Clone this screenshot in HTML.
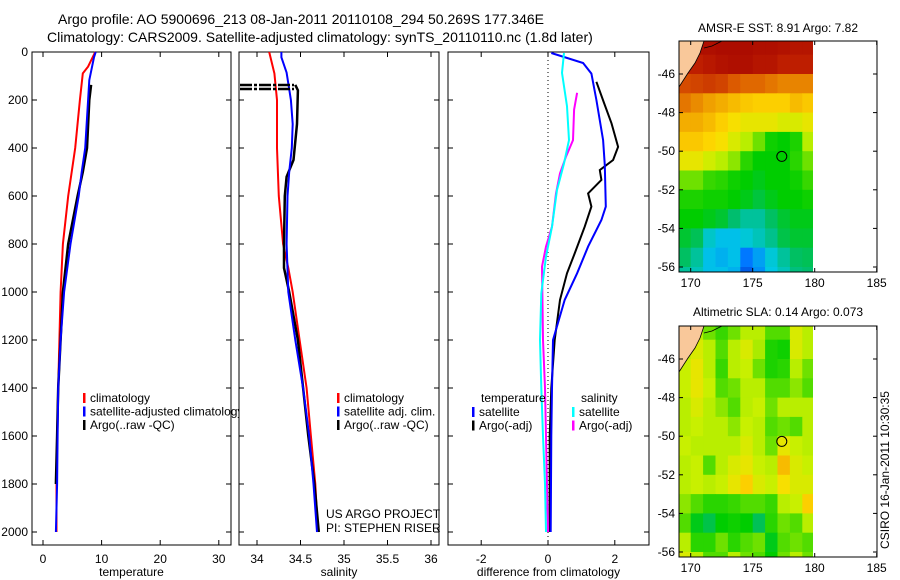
<!DOCTYPE html>
<html><head><meta charset="utf-8"><style>
body{margin:0;background:#fff}
svg{display:block;font-family:"Liberation Sans",sans-serif}
</style></head><body>
<svg id="fig" width="900" height="580" viewBox="0 0 900 580" xmlns="http://www.w3.org/2000/svg">
<text x="58" y="24" font-size="14">Argo profile: AO 5900696_213 08-Jan-2011 20110108_294 50.269S 177.346E</text>
<text x="47" y="42" font-size="14">Climatology: CARS2009. Satellite-adjusted climatology: synTS_20110110.nc (1.8d later)</text>
<g id="g"></g>
</svg>
<script>
// ---------- data ----------
const depthTicks=[0,200,400,600,800,1000,1200,1400,1600,1800,2000];
const tempTicks=[0,10,20,30];
const salTicks=[34,34.5,35,35.5,36];
const diffTicks=[-2,0,2];
const lonTicks=[170,175,180,185];
const latTicks=[-46,-48,-50,-52,-54,-56];

const tClimD=[0,61,89,200,400,600,800,1000,1200,1400,1600,1800,2000];
const tClimV=[8.9,7.7,6.8,6.3,5.5,4.3,3.4,3.0,2.8,2.6,2.4,2.3,2.3];
const tSatD=[0,22,117,200,400,500,600,800,1000,1200,1400,1600,1800,2000];
const tSatV=[9.0,8.7,7.9,7.7,7.2,6.6,6.1,4.7,3.6,3.0,2.6,2.5,2.4,2.2];
const tArgoD=[137,200,400,500,600,800,1000,1200,1400,1600,1800];
const tArgoV=[8.2,7.9,7.5,6.8,5.9,4.3,3.4,3.0,2.6,2.4,2.2];

const sClimD=[0,89,200,400,600,800,900,1000,1200,1400,1600,1800,2000];
const sClimV=[34.14,34.2,34.23,34.23,34.25,34.3,34.36,34.41,34.49,34.57,34.62,34.67,34.70];
const sSatD=[0,22,86,200,300,400,500,600,800,1000,1200,1400,1600,1800,2000];
const sSatV=[34.28,34.28,34.34,34.39,34.41,34.4,34.37,34.35,34.34,34.36,34.44,34.53,34.6,34.65,34.69];
const sArgoD=[137,160,300,450,520,600,800,900,1000,1200,1400,1600,1800,2000];
const sArgoV=[34.44,34.47,34.46,34.42,34.34,34.32,34.31,34.31,34.37,34.47,34.53,34.59,34.66,34.71];

const dTSatD=[4,46,90,200,367,472,644,700,811,922,1033,1200,1400,1600,2000];
const dTSatV=[0.1,1.05,1.3,1.45,1.65,1.7,1.73,1.6,1.2,0.87,0.5,0.15,0.12,0.1,0.08];
const dTArgoD=[124,213,297,395,450,492,533,589,644,728,839,922,1033,1200,1400,1600,2000];
const dTArgoV=[1.45,1.68,1.9,2.1,1.95,1.55,1.6,1.2,1.3,1.1,0.8,0.57,0.36,0.2,0.1,0.05,0.05];
const dSSatD=[4,87,226,367,464,575,728,853,1006,1200,1400,1600,1800,2000];
const dSSatV=[0.48,0.42,0.57,0.63,0.48,0.27,0.12,-0.06,-0.2,-0.24,-0.2,-0.15,-0.09,-0.06];
const dSArgoD=[170,240,367,436,506,589,728,811,894,1200,1400,1600,1800,2000];
const dSArgoV=[0.87,0.78,0.75,0.54,0.36,0.24,0.12,-0.06,-0.18,-0.15,-0.09,-0.06,-0.03,0];

const mapLats=[-44.5,-45.5,-46.5,-47.5,-48.5,-49.5,-50.5,-51.5,-52.5,-53.5,-54.5,-55.5,-56.5];
const mapLons=[169.5,170.5,171.5,172.5,173.5,174.5,175.5,176.5,177.5,178.5,179.5];
const sstGrid=[
[0.95,0.95,0.95,0.96,0.96,0.96,0.95,0.95,0.94,0.93,0.93],
[0.9,0.9,0.92,0.94,0.95,0.95,0.93,0.93,0.9,0.9,0.9],
[0.84,0.85,0.86,0.85,0.82,0.8,0.8,0.78,0.76,0.76,0.76],
[0.78,0.75,0.72,0.7,0.68,0.66,0.65,0.65,0.65,0.68,0.66],
[0.7,0.7,0.68,0.65,0.62,0.6,0.6,0.6,0.58,0.58,0.6],
[0.66,0.66,0.64,0.62,0.58,0.55,0.5,0.43,0.42,0.44,0.55],
[0.6,0.6,0.57,0.55,0.52,0.45,0.42,0.42,0.42,0.45,0.5],
[0.5,0.5,0.46,0.45,0.43,0.42,0.4,0.42,0.42,0.43,0.46],
[0.44,0.44,0.43,0.43,0.42,0.4,0.37,0.4,0.42,0.42,0.43],
[0.42,0.42,0.4,0.38,0.33,0.3,0.3,0.34,0.38,0.4,0.4],
[0.38,0.35,0.27,0.24,0.24,0.26,0.28,0.31,0.36,0.38,0.38],
[0.34,0.3,0.24,0.22,0.24,0.15,0.2,0.26,0.3,0.34,0.35],
[0.3,0.28,0.24,0.24,0.22,0.1,0.18,0.25,0.28,0.32,0.33]];
const slaGrid=[
[0.55,0.55,0.5,0.46,0.5,0.55,0.55,0.48,0.48,0.58,0.55],
[0.55,0.58,0.55,0.48,0.55,0.58,0.54,0.44,0.43,0.58,0.55],
[0.56,0.6,0.55,0.46,0.55,0.56,0.5,0.44,0.45,0.55,0.5],
[0.56,0.6,0.56,0.48,0.5,0.55,0.55,0.48,0.48,0.52,0.48],
[0.55,0.58,0.55,0.52,0.48,0.55,0.56,0.5,0.55,0.55,0.55],
[0.55,0.56,0.55,0.55,0.52,0.56,0.55,0.48,0.5,0.48,0.55],
[0.56,0.55,0.55,0.55,0.55,0.58,0.55,0.5,0.6,0.56,0.55],
[0.55,0.56,0.48,0.55,0.58,0.6,0.56,0.55,0.68,0.58,0.56],
[0.55,0.56,0.55,0.56,0.6,0.65,0.58,0.56,0.62,0.58,0.58],
[0.52,0.48,0.45,0.45,0.46,0.48,0.48,0.46,0.55,0.56,0.65],
[0.48,0.4,0.36,0.42,0.43,0.42,0.35,0.45,0.5,0.48,0.55],
[0.55,0.45,0.45,0.5,0.45,0.48,0.5,0.4,0.48,0.5,0.48],
[0.58,0.55,0.48,0.48,0.55,0.5,0.48,0.42,0.5,0.55,0.5]];
const argoLon=177.346, argoLat=-50.269;

// ---------- drawing ----------
const NS='http://www.w3.org/2000/svg';
const G=document.getElementById('g');
function el(tag,attrs,parent){const e=document.createElementNS(NS,tag);for(const k in attrs)e.setAttribute(k,attrs[k]);(parent||G).appendChild(e);return e;}
function txt(x,y,s,size,anchor,parent){const t=el('text',{x:x,y:y,'font-size':size,'text-anchor':anchor||'middle'},parent);t.textContent=s;return t;}
const yD=d=>52+d*0.24;
const xT=v=>43+v*5.86;
const xS=v=>257+(v-34)*87;
const xDf=v=>548+v*33.4;

function panel(name,x0,x1,ticks,xf,label){
  const g=el('g',{});
  
  
  el('rect',{x:x0,y:52,width:x1-x0,height:493,fill:'#fff',stroke:'#000','stroke-width':1},g);
  depthTicks.forEach(d=>{const y=yD(d);
    el('line',{x1:x0,y1:y,x2:x0+5,y2:y,stroke:'#000'},g);
    el('line',{x1:x1,y1:y,x2:x1-5,y2:y,stroke:'#000'},g);});
  ticks.forEach(v=>{const x=xf(v);
    el('line',{x1:x,y1:545,x2:x,y2:540,stroke:'#000'},g);
    el('line',{x1:x,y1:52,x2:x,y2:57,stroke:'#000'},g);
    const t=txt(x,563,String(v),12,'middle',g);
    
    });
  const l=txt((x0+x1)/2,576,label,12,'middle',g);
  
  
  return g;
}
function line(g,D,V,xf,color,w,name){
  const p=D.map((d,i)=>xf(V[i]).toFixed(1)+','+yD(d).toFixed(1)).join(' ');
  const e=el('polyline',{points:p,fill:'none',stroke:color,'stroke-width':w},g);
  
  
}
function legend(g,x,y,items){
  items.forEach((it,i)=>{const yy=y+i*13.5;
    el('rect',{x:x,y:yy-9,width:2.5,height:10,fill:it[1]},g);
    const t=txt(x+7,yy,it[0],12,'start',g);
    
    });
}

const p1=panel('temperature-panel',32,231,tempTicks,xT,'temperature');
depthTicks.forEach(d=>{const t=txt(28,yD(d)+4,String(d),12,'end',p1);
  
  });
line(p1,tClimD,tClimV,xT,'#f00',2,'temp-climatology-line');
line(p1,tArgoD,tArgoV,xT,'#000',2.5,'temp-argo-line');
line(p1,tSatD,tSatV,xT,'#00f',2,'temp-satellite-line');
legend(p1,83,402,[['climatology','#f00'],['satellite-adjusted climatology','#00f'],['Argo(..raw -QC)','#000']]);

const p2=panel('salinity-panel',239,439,salTicks,xS,'salinity');
line(p2,sClimD,sClimV,xS,'#f00',2,'sal-climatology-line');
line(p2,sArgoD,sArgoV,xS,'#000',2.5,'sal-argo-line');
line(p2,sSatD,sSatV,xS,'#00f',2,'sal-satellite-line');
[85,89].forEach(y=>{const e=el('line',{x1:240,y1:y,x2:294,y2:y,stroke:'#000','stroke-width':2.5,'stroke-dasharray':'12,2,3,2'},p2);
  
  });
legend(p2,337,402,[['climatology','#f00'],['satellite adj. clim.','#00f'],['Argo(..raw -QC)','#000']]);
txt(326,518,'US ARGO PROJECT',12,'start',p2);
txt(326,532,'PI: STEPHEN RISER',12,'start',p2);

const p3=panel('difference-panel',448,649,diffTicks,xDf,'difference from climatology');
el('line',{x1:xDf(0),y1:52,x2:xDf(0),y2:545,stroke:'#000','stroke-dasharray':'1,3'},p3);
line(p3,dTArgoD,dTArgoV,xDf,'#000',2,'dtemp-argo-line');
line(p3,dTSatD,dTSatV,xDf,'#00f',2,'dtemp-satellite-line');
line(p3,dSArgoD,dSArgoV,xDf,'#f0f',2,'dsal-argo-line');
line(p3,dSSatD,dSSatV,xDf,'#0ff',2,'dsal-satellite-line');
txt(481,402,'temperature',12,'start',p3);
txt(581,402,'salinity',12,'start',p3);
legend(p3,472,416,[['satellite','#00f'],['Argo(-adj)','#000']]);
legend(p3,572,416,[['satellite','#0ff'],['Argo(-adj)','#f0f']]);

// colormap
const cmStops=[[0,[0,40,190]],[0.15,[0,120,255]],[0.25,[0,200,230]],[0.33,[0,190,110]],[0.42,[0,205,0]],[0.5,[110,225,0]],[0.56,[200,240,0]],[0.63,[255,220,0]],[0.72,[240,160,0]],[0.82,[220,90,0]],[0.9,[190,30,0]],[1,[160,0,0]]];
function cmap(v){for(let i=1;i<cmStops.length;i++){if(v<=cmStops[i][0]){const a=cmStops[i-1],b=cmStops[i],t=(v-a[0])/(b[0]-a[0]);
  return 'rgb('+a[1].map((c,k)=>Math.round(c+(b[1][k]-c)*t)).join(',')+')';}}return 'rgb(160,0,0)';}
function map(name,top,bot,grid,title,titleY){
  const g=el('g',{});
  
  
  const xL=lon=>690.7+(lon-170)*12.4;
  const sc=(bot-top)/231;
  const y46=top+33*sc;
  const yL=lat=>y46+(-46-lat)*19.3*sc;
  const cid='clip-'+name;
  const cp=el('clipPath',{id:cid},g);
  el('rect',{x:679,y:top,width:134,height:bot-top},cp);
  const cg=el('g',{'clip-path':'url(#'+cid+')'},g);
  grid.forEach((row,i)=>row.forEach((v,j)=>{
    const x=xL(mapLons[j]-0.5), y=yL(mapLats[i]+0.5);
    const c=el('rect',{x:x.toFixed(1),y:y.toFixed(1),width:12.9,height:(19.3*sc+0.5).toFixed(1),fill:cmap(v)},cg);
    
    
  }));
  const land=el('polygon',{points:`679,${top} 704,${top} 700,${top+12} 695,${top+22} 688,${top+32} 679,${top+46}`,fill:'#f9c89a',stroke:'#000','stroke-width':0.8},g);
  
  
  el('polyline',{points:`704,${top+7} 712,${top+5} 722,${top}`,fill:'none',stroke:'#000','stroke-width':0.8},g);
  el('rect',{x:679,y:top,width:198,height:bot-top,fill:'none',stroke:'#000'},g);
  const mk=el('circle',{cx:xL(argoLon),cy:yL(argoLat),r:5,fill:'none',stroke:'#000'},g);
  
  
  lonTicks.forEach(l=>{const x=xL(l);
    el('line',{x1:x,y1:bot,x2:x,y2:bot-4,stroke:'#000'},g);
    el('line',{x1:x,y1:top,x2:x,y2:top+4,stroke:'#000'},g);
    txt(x,bot+15,String(l),12,'middle',g);});
  latTicks.forEach(l=>{const y=yL(l);
    el('line',{x1:679,y1:y,x2:683,y2:y,stroke:'#000'},g);
    el('line',{x1:877,y1:y,x2:873,y2:y,stroke:'#000'},g);
    txt(675,y+4,String(l),12,'end',g);});
  const t=txt(778,titleY,title,12,'middle',g);
  
  
}
map('sst-map',41,272,sstGrid,'AMSR-E SST: 8.91 Argo: 7.82',32);
map('sla-map',326,557,slaGrid,'Altimetric SLA: 0.14 Argo: 0.073',316);
const st=txt(0,0,'CSIRO 16-Jan-2011 10:30:35',12,'middle');
st.setAttribute('transform','translate(889,470) rotate(-90)');


</script>
</body></html>
